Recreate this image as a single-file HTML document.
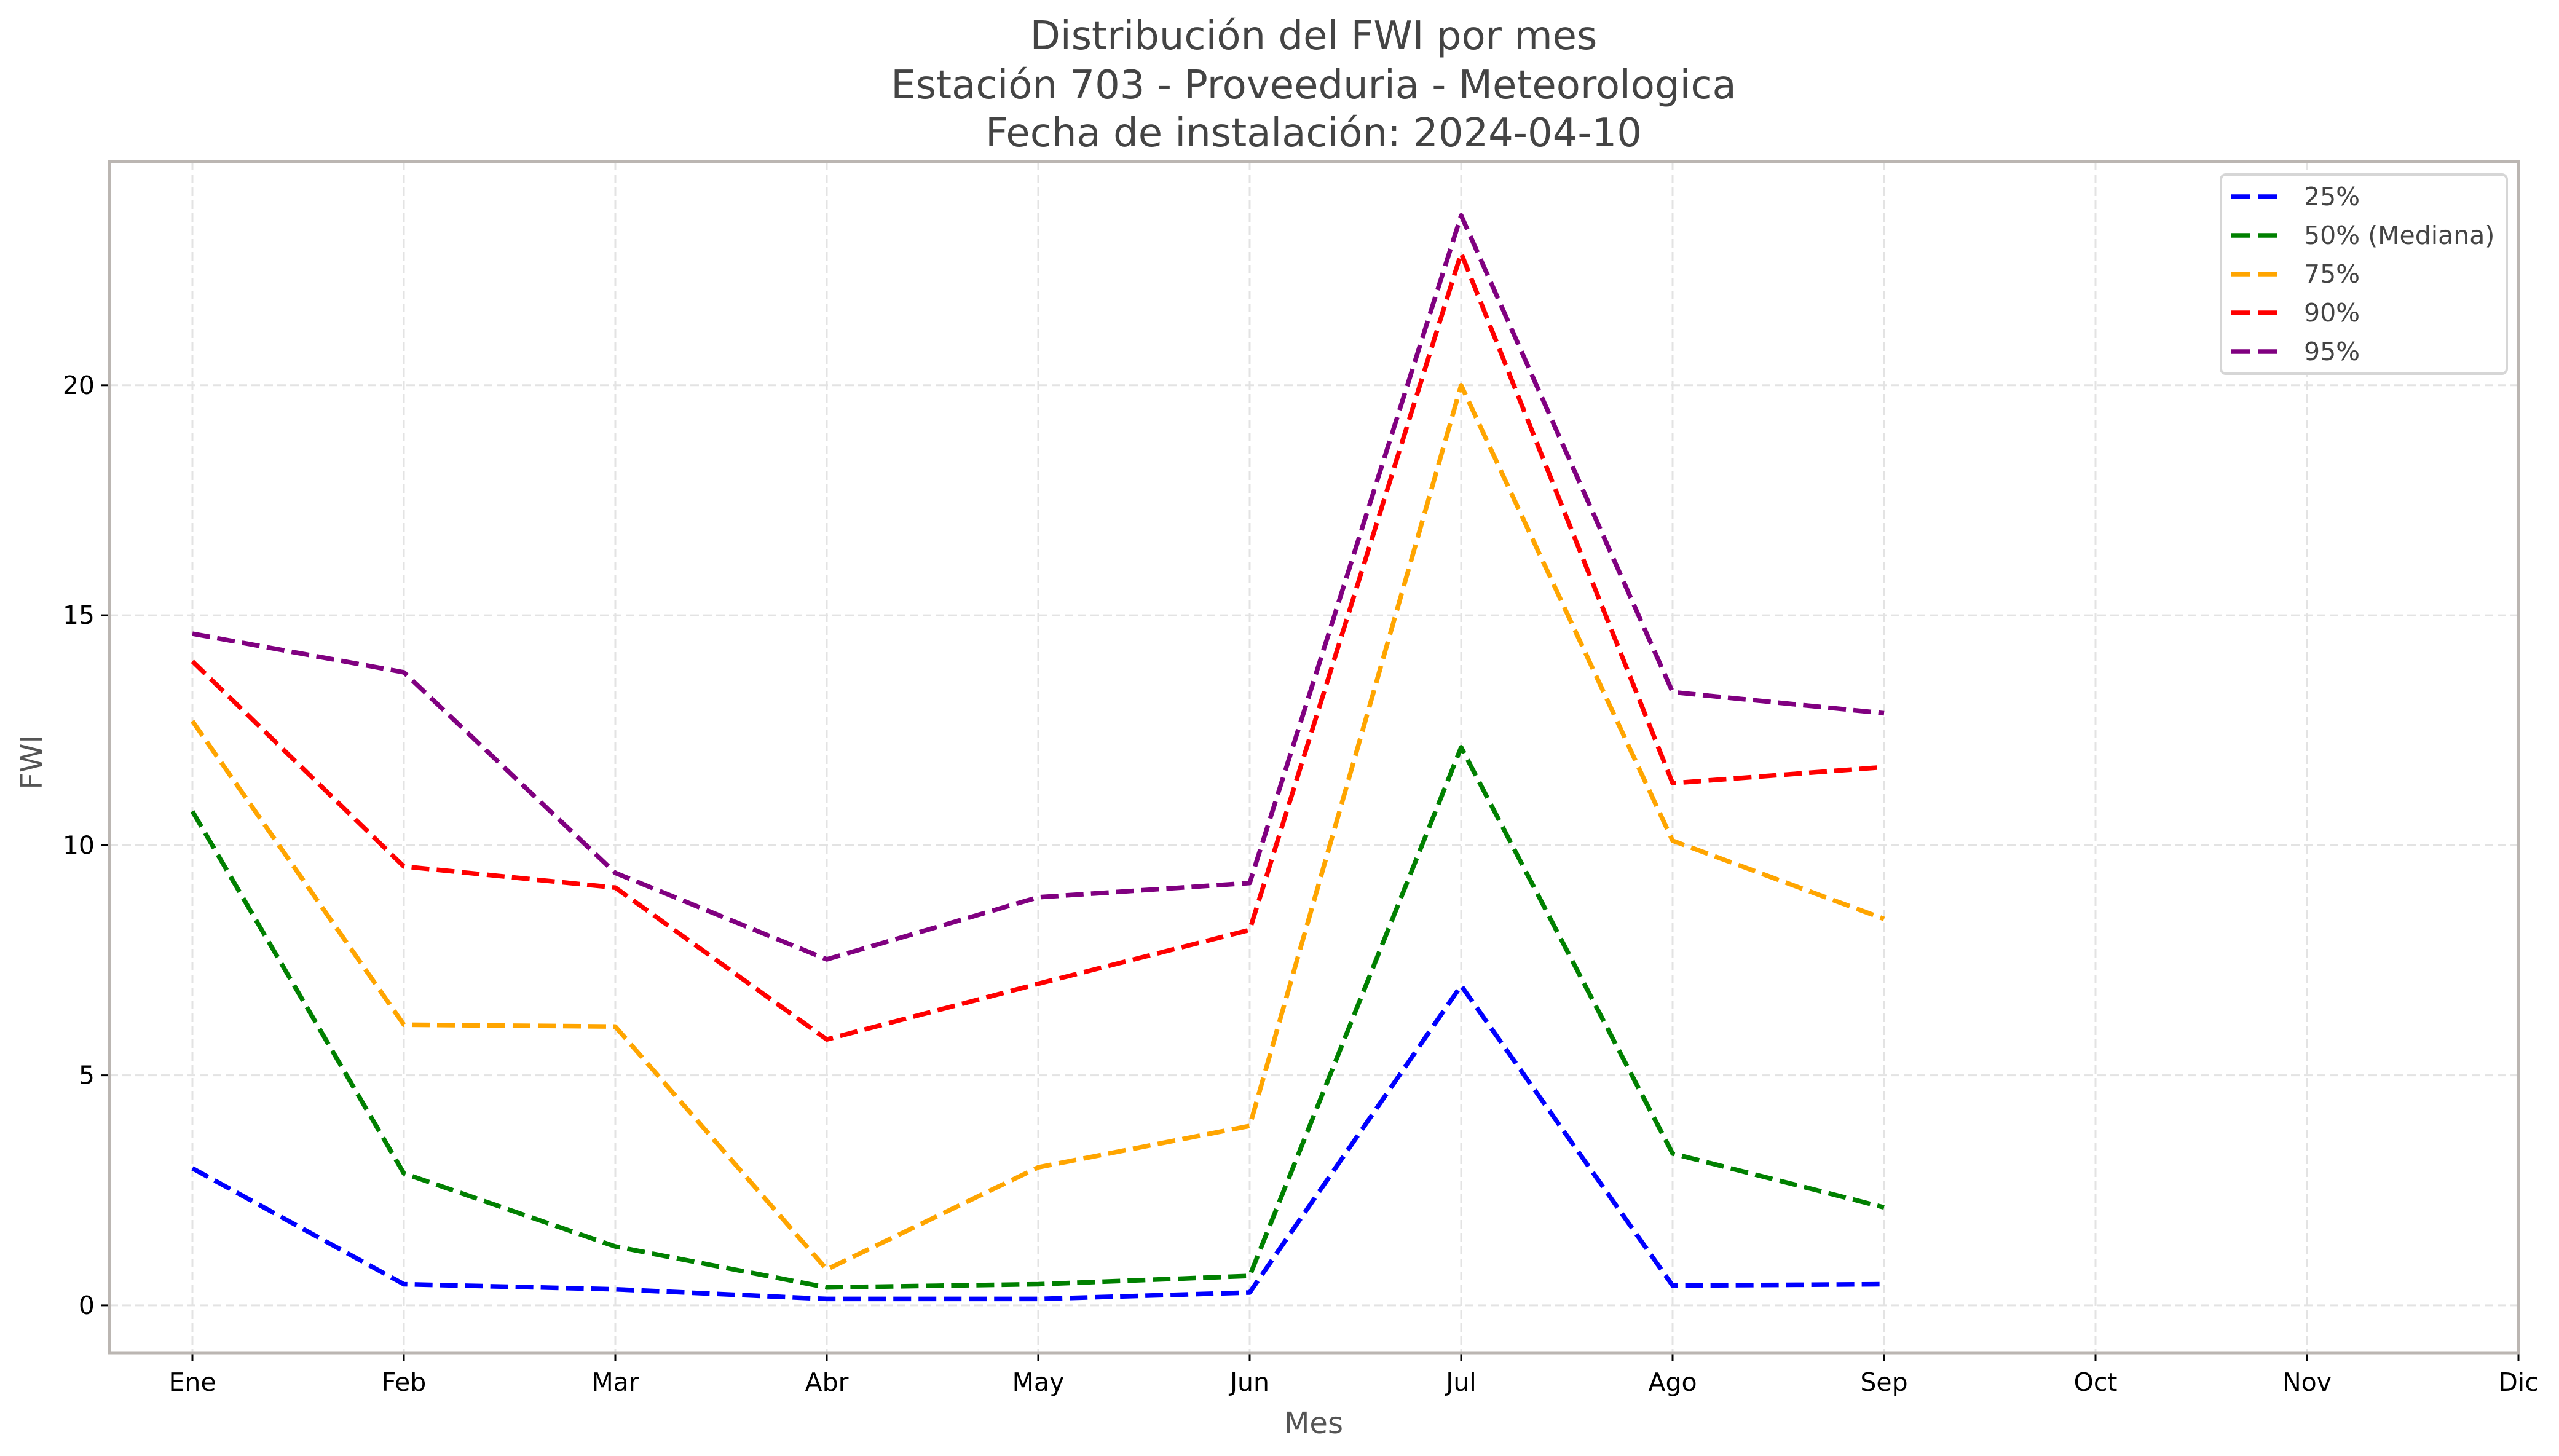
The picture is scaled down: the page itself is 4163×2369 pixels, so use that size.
<!DOCTYPE html>
<html><head><meta charset="utf-8"><style>
html,body{margin:0;padding:0;background:#fff;}
svg{display:block;font-family:"DejaVu Sans","Liberation Sans",sans-serif;}
</style></head><body>
<svg id="chart" width="4163" height="2369" viewBox="0 0 4163 2369" xmlns="http://www.w3.org/2000/svg">
<rect width="4163" height="2369" fill="#fff"/>
<g fill="#444" font-size="64" text-anchor="middle">
<text x="2137" y="80">Distribución del FWI por mes</text>
<text x="2137" y="160">Estación 703 - Proveeduria - Meteorologica</text>
<text x="2137" y="238">Fecha de instalación: 2024-04-10</text>
</g>
<g id="grid"></g>
<g id="series"></g>
<g id="axes"></g>
<text x="2137" y="2332" font-size="48" fill="#555" text-anchor="middle">Mes</text>
<text x="0" y="0" font-size="48" fill="#555" text-anchor="middle" transform="translate(68,1240) rotate(-90)">FWI</text>
<g id="legend"></g>
</svg>
<script>
const months = ["Ene","Feb","Mar","Abr","May","Jun","Jul","Ago","Sep","Oct","Nov","Dic"];
const yTicks = [0,5,10,15,20];
const seriesNames = ["25%","50% (Mediana)","75%","90%","95%"];
const seriesColors = ["#0000ff","#008000","#ffa500","#ff0000","#800080"];
const p25 = [2.98,0.46,0.35,0.14,0.14,0.28,6.95,0.43,0.46];
const p50 = [10.74,2.87,1.28,0.39,0.46,0.64,12.13,3.3,2.13];
const p75 = [12.7,6.1,6.06,0.78,3.0,3.9,20.0,10.1,8.4];
const p90 = [14.0,9.54,9.08,5.78,6.99,8.16,22.87,11.35,11.7];
const p95 = [14.6,13.76,9.4,7.52,8.87,9.18,23.69,13.33,12.87];
const allSeries = [p25,p50,p75,p90,p95];

const NS="http://www.w3.org/2000/svg";
const L=178,R=4097,T=263,B=2201;
const yMin=-1.03,yMax=24.86;
const xFirst=313,xStep=344;
function xs(i){return xFirst+i*xStep;}
function ys(v){return B-(v-yMin)/(yMax-yMin)*(B-T);}
function mk(tag,attrs,parent){const e=document.createElementNS(NS,tag);for(const k in attrs)e.setAttribute(k,attrs[k]);parent.appendChild(e);return e;}
const grid=document.getElementById('grid'),axes=document.getElementById('axes'),ser=document.getElementById('series'),leg=document.getElementById('legend');
months.forEach((m,i)=>{
  const g=mk('line',{x1:xs(i),x2:xs(i),y1:T,y2:B,stroke:'#e3e3e3','stroke-width':3,'stroke-dasharray':'14,7'},grid);
  
  
  const t=mk('line',{x1:xs(i),x2:xs(i),y1:B,y2:B+13,stroke:'#000','stroke-width':3},axes);
  
  
  const tx=mk('text',{x:xs(i),y:B+62,'font-size':41,fill:'#000','text-anchor':'middle'},axes);
  tx.textContent=m;
  
  
});
yTicks.forEach(v=>{
  const g=mk('line',{x1:L,x2:R,y1:ys(v),y2:ys(v),stroke:'#e3e3e3','stroke-width':3,'stroke-dasharray':'14,7'},grid);
  
  
  const t=mk('line',{x1:L-13,x2:L,y1:ys(v),y2:ys(v),stroke:'#000','stroke-width':3},axes);
  
  
  const tx=mk('text',{x:L-24,y:ys(v)+14,'font-size':41,fill:'#000','text-anchor':'end'},axes);
  tx.textContent=v;
  
  
});
const frame=mk('rect',{x:L,y:T,width:R-L,height:B-T,fill:'none',stroke:'#bbb6b2','stroke-width':5},axes);


allSeries.forEach((arr,s)=>{
  const pts=arr.map((v,i)=>xs(i)+','+ys(v)).join(' ');
  const pl=mk('polyline',{points:pts,fill:'none',stroke:seriesColors[s],'stroke-width':7.5,'stroke-dasharray':'29,12','stroke-linejoin':'round'},ser);
  
  
});
const box=mk('rect',{x:3613,y:284,width:465,height:324,rx:8,fill:'#fff',stroke:'#d6d6d6','stroke-width':4},leg);


seriesNames.forEach((n,s)=>{
  const y=320+s*63;
  const ln=mk('line',{x1:3630,x2:3706,y1:y,y2:y,stroke:seriesColors[s],'stroke-width':7.5,'stroke-dasharray':'31,13'},leg);
  
  
  const tx=mk('text',{x:3748,y:y+14,'font-size':41,fill:'#444'},leg);
  tx.textContent=n;
  
  
});
</script>
</body></html>
